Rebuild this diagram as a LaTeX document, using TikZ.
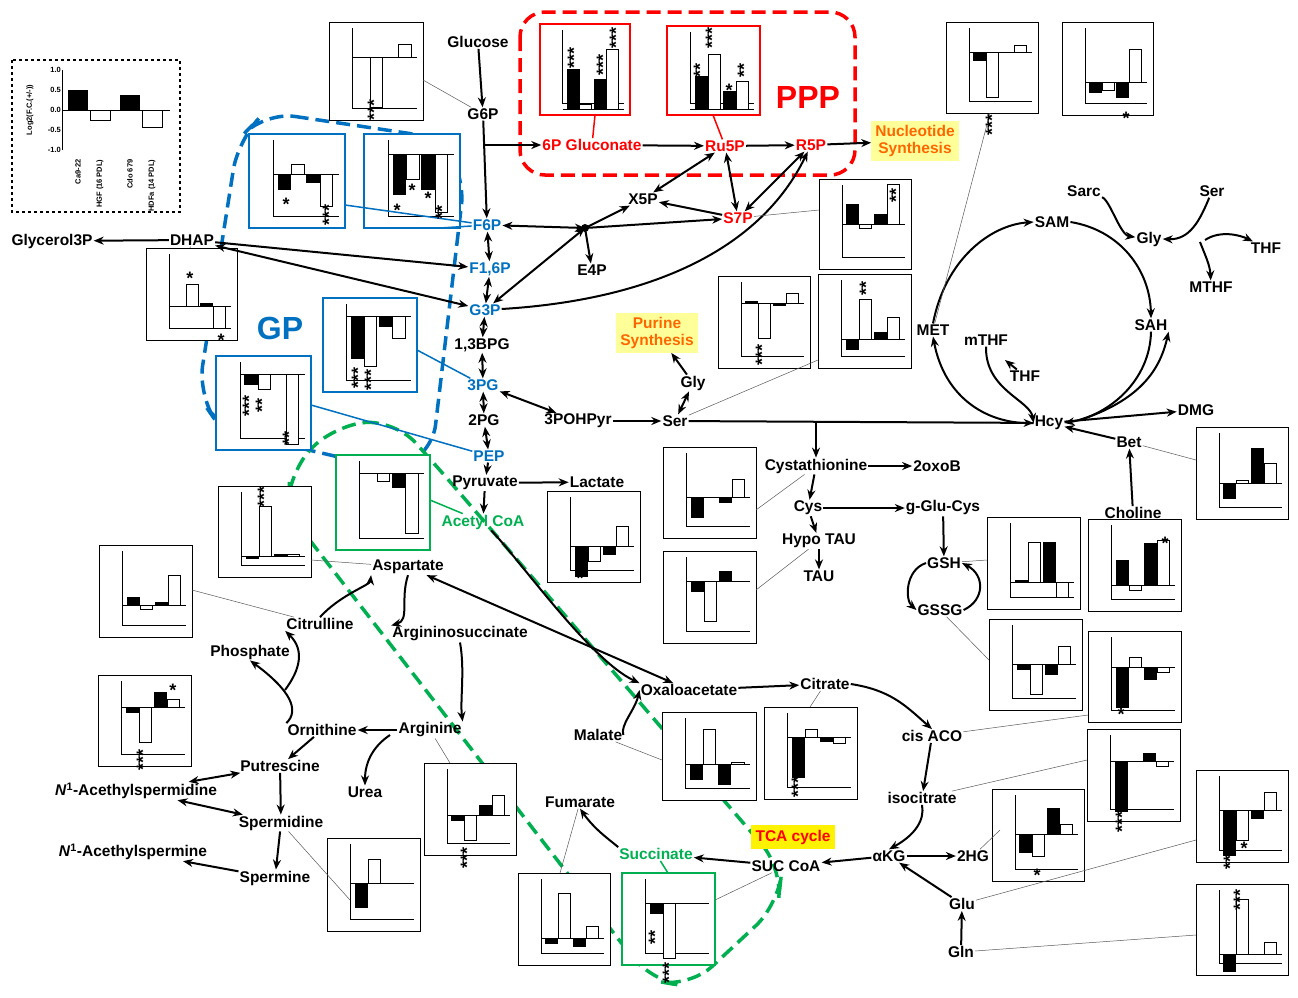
\documentclass[tikz,border=0pt]{standalone}
\usepackage{fontspec}
\setmainfont{Liberation Sans}
\usetikzlibrary{arrows.meta}
\definecolor{gblue}{RGB}{0,112,192}
\definecolor{gred}{RGB}{255,0,0}
\definecolor{ggreen}{RGB}{0,176,80}
\definecolor{yel}{RGB}{255,255,153}
\newcommand\bc[9]{\begin{scope}[shift={(#1,#2)}]
\draw[line width=0.6pt,fill=white] (0,0) rectangle (#3,#4);
\draw[line width=0.5pt] (0.25*#3,6) -- (0.25*#3,#4-12) -- (#3-6,#4-12);
\draw[line width=0.5pt] (0.25*#3,#5) -- (#3-6,#5);
\filldraw[fill=black,line width=0.4pt] (0.30*#3,#5) rectangle (0.43*#3,#5-#6);
\filldraw[fill=white,line width=0.4pt] (0.44*#3,#5) rectangle (0.57*#3,#5-#7);
\filldraw[fill=black,line width=0.4pt] (0.60*#3,#5) rectangle (0.73*#3,#5-#8);
\filldraw[fill=white,line width=0.4pt] (0.74*#3,#5) rectangle (0.87*#3,#5-#9);
\end{scope}}
\tikzset{
 m/.style={font=\fontsize{15.5}{17}\bfseries,inner sep=1pt},
 b/.style={m,text=gblue}, r/.style={m,text=gred}, g/.style={m,text=ggreen},
 a/.style={-{Stealth[length=10pt,width=8pt]},line width=2pt},
 aa/.style={{Stealth[length=10pt,width=8pt]}-{Stealth[length=10pt,width=8pt]},line width=2pt},
 thin/.style={line width=0.5pt,gray!70!black},
 yb/.style={m,fill=yel,align=center,text=orange!80!red,inner sep=4pt},
}
\begin{document}
\begin{tikzpicture}[x=1pt,y=-1pt]
\useasboundingbox (0,0) rectangle (1298,997);
% dashed regions
\draw[gred,dashed,line width=3.5pt,rounded corners=25pt,dash pattern=on 14pt off 7pt] (520,12) rectangle (855,175);
\draw[gblue,line width=3.5pt,dash pattern=on 14pt off 7pt,rounded corners=30pt] (265,112) -- (440,138) -- (465,175) -- (432,455) -- (395,470) -- (222,430) -- (198,395) -- (238,140) -- cycle;
\draw[ggreen,line width=3.5pt,dash pattern=on 14pt off 7pt,rounded corners=30pt] (335,425) -- (395,420) -- (440,470) -- (782,868) -- (778,905) -- (690,987) -- (650,980) -- (288,512) -- (290,470) -- cycle;
% legend
\draw[dashed,line width=1.5pt] (12,60) rectangle (180,212);
\begin{scope}[font=\fontsize{7.5}{9}\bfseries]
\draw (62,70) -- (62,150); \draw (62,110) -- (170,110);
\foreach \v/\y in {1.0/70,0.5/90,0.0/110,-0.5/130,-1.0/150}{\node[left,inner sep=1pt] at (62,\y){\v};}
\fill (68,110) rectangle (88,90); \draw (90,110) rectangle (110,120);
\fill (120,110) rectangle (140,95); \draw (142,110) rectangle (162,127);
\node[rotate=90] at (30,110){Log2(F.C.(+/-))};
\node[rotate=90,anchor=east] at (78,156){Ca9-22};
\node[rotate=90,anchor=east] at (100,156){HGF (16 PDL)};
\node[rotate=90,anchor=east] at (130,156){Cdo 679};
\node[rotate=90,anchor=east] at (152,156){HDFa (14 PDL)};
\end{scope}
% charts
\bc{329}{22}{94}{98}{35}{0}{-50}{0}{13}
\bc{540}{24}{90}{91}{85}{40}{5}{30}{60}
\bc{667}{26}{93}{89}{83}{33}{55}{18}{28}
\draw[gred,line width=2.5pt] (540,24) rectangle (630,115) (667,26) rectangle (760,115);
\bc{249}{134}{96}{94}{40}{-15}{10}{-8}{-32}
\bc{364}{134}{96}{94}{20}{-40}{-25}{-35}{-58}
\draw[gblue,line width=2.5pt] (249,134) rectangle (345,228) (364,134) rectangle (460,228);
\bc{146}{248}{91}{92}{58}{0}{22}{3}{-22}
\bc{323}{298}{94}{94}{18}{-42}{-50}{-10}{-22}
\bc{216}{356}{95}{94}{18}{-10}{-15}{0}{-70}
\draw[gblue,line width=2.5pt] (323,298) rectangle (417,392) (216,356) rectangle (311,450);
\bc{819}{179}{92}{90}{45}{20}{-4}{10}{40}
\bc{718}{276}{92}{92}{27}{2}{-35}{-2}{10}
\bc{818}{274}{93}{94}{65}{-10}{40}{7}{22}
\bc{946}{22}{92}{91}{30}{-8}{-45}{0}{7}
\bc{1062}{22}{91}{93}{60}{-10}{-8}{-15}{33}
\bc{663}{447}{93}{91}{50}{-20}{0}{-5}{18}
\bc{663}{551}{93}{92}{30}{-10}{-40}{10}{0}
\bc{547}{491}{93}{91}{55}{-30}{-15}{-8}{20}
\bc{336}{455}{94}{95}{18}{0}{-8}{-14}{-60}
\draw[ggreen,line width=2.5pt] (336,455) rectangle (430,550);
\bc{218}{486}{93}{91}{70}{-2}{50}{2}{2}
\bc{99}{545}{93}{92}{60}{8}{-4}{3}{30}
\bc{98}{675}{93}{91}{32}{-5}{-35}{15}{8}
\bc{424}{763}{92}{92}{52}{-5}{-25}{10}{20}
\bc{327}{838}{93}{93}{45}{-24}{24}{0}{0}
\bc{662}{712}{94}{88}{52}{-15}{35}{-20}{2}
\bc{764}{707}{93}{92}{30}{-40}{8}{-4}{-6}
\bc{518}{873}{92}{92}{65}{-5}{45}{-8}{12}
\bc{622}{873}{93}{92}{30}{-10}{-55}{0}{0}
\draw[ggreen,line width=2.5pt] (622,873) rectangle (715,965);
\bc{987}{517}{93}{92}{65}{2}{40}{40}{-15}
\bc{989}{619}{93}{91}{45}{-5}{-30}{-10}{18}
\bc{1088}{519}{93}{92}{66}{25}{-5}{42}{45}
\bc{1196}{427}{92}{92}{56}{-15}{3}{35}{20}
\bc{1088}{631}{93}{91}{36}{-40}{10}{-12}{-5}
\bc{1087}{729}{93}{92}{32}{-50}{0}{8}{-5}
\bc{992}{789}{92}{92}{45}{-18}{-22}{26}{10}
\bc{1196}{770}{92}{92}{40}{-45}{-30}{-8}{18}
\bc{1196}{884}{92}{91}{70}{-17}{55}{0}{12}
% labels big
\node[r,font=\fontsize{32}{34}\bfseries] at (808,97){PPP};
\node[b,font=\fontsize{32}{34}\bfseries] at (280,328){GP};
\node[m,fill=yellow,inner sep=5pt,text=gred] (tca) at (793,837){TCA cycle};
\node[yb] (nuc) at (915,141){Nucleotide\\Synthesis};
\node[yb] (pur) at (657,333){Purine\\Synthesis};
% metabolites
\node[m] (glc) at (478,42){Glucose};
\node[m] (g6p) at (483,114){G6P};
\node[b] (f6p) at (487,225){F6P};
\node[b] (f16p) at (490,269){F1,6P};
\node[b] (g3p) at (485,310){G3P};
\node[m] (bpg) at (482,345){1,3BPG};
\node[b] (pg3) at (483,385){3PG};
\node[m] (pg2) at (484,420){2PG};
\node[b] (pep) at (489,456){PEP};
\node[m] (pyr) at (485,483){Pyruvate};
\node[g] (aco) at (483,522){Acetyl CoA};
\node[m] (lac) at (597,482){Lactate};
\node[r] (gluc) at (592,145){6P Gluconate};
\node[r] (ru5p) at (725,146){Ru5P};
\node[r] (r5p) at (811,145){R5P};
\node[m] (x5p) at (643,199){X5P};
\node[r] (s7p) at (738,218){S7P};
\node[m] (e4p) at (592,270){E4P};
\coordinate (hub) at (585,228);
\node[m] (gly3p) at (52,241){Glycerol3P};
\node[m] (dhap) at (192,240){DHAP};
\node[m] (gly) at (693,383){Gly};
\node[m] (pohp) at (578,421){3POHPyr};
\node[m] (ser) at (675,421){Ser};
\node[m] (cyst) at (816,466){Cystathionine};
\node[m] (oxob) at (937,466){2oxoB};
\node[m] (cys) at (808,508){Cys};
\node[m] (ggc) at (943,508){g-Glu-Cys};
\node[m] (hypo) at (819,541){Hypo TAU};
\node[m] (tau) at (819,576){TAU};
\node[m] (gsh) at (944,563){GSH};
\node[m] (gssg) at (940,610){GSSG};
\node[m] (chol) at (1133,513){Choline};
\node[m] (bet) at (1129,442){Bet};
\node[m] (hcy) at (1049,423){Hcy};
\node[m] (dmg) at (1196,410){DMG};
\node[m] (sah) at (1151,325){SAH};
\node[m] (sam) at (1052,222){SAM};
\node[m] (sarc) at (1084,191){Sarc};
\node[m] (gly2) at (1149,239){Gly};
\node[m] (ser2) at (1212,191){Ser};
\node[m] (thf2) at (1266,248){THF};
\node[m] (mthf) at (1211,287){MTHF};
\node[m] (met) at (933,330){MET};
\node[m] (mthf2) at (986,340){mTHF};
\node[m] (thf) at (1025,376){THF};
\node[m] (asp) at (408,567){Aspartate};
\node[m] (cit) at (320,624){Citrulline};
\node[m] (args) at (460,634){Argininosuccinate};
\node[m] (pho) at (250,652){Phosphate};
\node[m] (orn) at (322,730){Ornithine};
\node[m] (arg) at (430,730){Arginine};
\node[m] (put) at (280,766){Putrescine};
\node[m] (urea) at (365,792){Urea};
\node[m] (nspd) at (136,791){\emph{N}\textsuperscript{1}-Acethylspermidine};
\node[m] (spd) at (281,823){Spermidine};
\node[m] (nspm) at (133,852){\emph{N}\textsuperscript{1}-Acethylspermine};
\node[m] (spm) at (275,878){Spermine};
\node[m] (oaa) at (689,690){Oxaloacetate};
\node[m] (citr) at (825,684){Citrate};
\node[m] (mal) at (598,735){Malate};
\node[m] (caco) at (932,736){cis ACO};
\node[m] (isoc) at (922,798){isocitrate};
\node[m] (fum) at (580,802){Fumarate};
\node[g] (suc) at (656,854){Succinate};
\node[m] (succoa) at (786,866){SUC CoA};
\node[m] (akg) at (889,856){αKG};
\node[m] (hg) at (973,856){2HG};
\node[m] (glu) at (962,904){Glu};
\node[m] (gln) at (961,952){Gln};
% glycolysis
\draw[a] (glc) -- (g6p);
\draw[a] (g6p) -- (f6p);
\draw[a] (483,145) -- (gluc);
\draw[aa] (f6p) -- (f16p);
\draw[aa] (f16p) -- (g3p);
\draw[aa] (g3p) -- (bpg);
\draw[aa] (bpg) -- (pg3);
\draw[aa] (pg3) -- (pg2);
\draw[aa] (pg2) -- (pep);
\draw[a] (pep) -- (pyr);
\draw[a] (pyr) -- (aco);
\draw[a] (pyr) -- (lac);
\draw[a] (gluc) -- (ru5p);
\draw[a] (ru5p) -- (r5p);
\draw[a] (r5p) -- (nuc);
\draw[aa] (x5p) -- (ru5p);
\draw[aa] (s7p) -- (ru5p);
\draw[aa] (s7p) -- (r5p);
\draw[a] (s7p) -- (x5p);
\draw[aa] (f6p) -- (hub);
\draw[a] (hub) -- (x5p);
\draw[a] (hub) -- (s7p);
\draw[a] (hub) -- (e4p);
\draw[aa] (g3p) -- (hub);
\draw[a] (g3p) .. controls (650,300) and (760,250) .. (r5p);
\fill (hub) circle (4pt);
\draw[a] (dhap) -- (gly3p);
\draw[a] (dhap) -- (f16p);
\draw[aa] (dhap) -- (g3p);
\draw[aa] (pg3) -- (pohp);
\draw[a] (pohp) -- (ser);
\draw[aa] (ser) -- (gly);
\draw[a] (gly) -- (pur);
\draw[a] (ser) -- (hcy);
\draw[a] (816,421) -- (cyst);
\draw[a] (cyst) -- (oxob);
\draw[a] (cyst) -- (cys);
\draw[a] (cys) -- (ggc);
\draw[a] (cys) -- (hypo);
\draw[a] (hypo) -- (tau);
\draw[a] (ggc) -- (gsh);
\draw[a] (gsh.west) .. controls (905,570) and (905,600) .. (gssg.west);
\draw[a] (gssg.east) .. controls (985,600) and (985,575) .. (gsh.east);
% methionine cycle
\draw[a] (met.north) .. controls (945,260) and (990,225) .. (sam.west);
\draw[a] (sam.east) .. controls (1120,230) and (1150,270) .. (sah.north);
\draw[a] (sah.south) .. controls (1150,380) and (1110,415) .. (hcy.east);
\draw[a] (hcy.west) .. controls (990,425) and (945,400) .. (met.south);
\draw[a] (mthf2.south) .. controls (985,390) and (1030,400) .. (hcy.west);
\draw[a] (thf) -- (1005,360);
\draw[a] (sarc) .. controls (1110,200) and (1120,235) .. (gly2);
\draw[a] (ser2) .. controls (1200,220) and (1190,240) .. (gly2.east);
\draw[a] (1205,240) .. controls (1220,230) and (1240,235) .. (thf2);
\draw[a] (1200,242) .. controls (1205,255) and (1210,265) .. (mthf);
\draw[a] (chol) -- (bet);
\draw[a] (bet) -- (hcy);
\draw[a] (hcy) -- (dmg);
\draw[a] (1080,420) .. controls (1140,400) and (1160,370) .. (sah.south east);
% urea cycle
\draw[a] (asp.south) .. controls (400,600) and (410,620) .. (args.north west);
\draw[a] (cit.north) .. controls (340,595) and (370,585) .. (asp.south west);
\draw[a] (args.south) .. controls (465,670) and (460,700) .. (arg.north east);
\draw[a] (arg) -- (orn);
\draw[a] (390,735) .. controls (375,745) and (365,760) .. (urea);
\draw[a] (orn.north west) .. controls (300,710) and (290,690) .. (pho.south);
\draw[a] (285,690) .. controls (300,670) and (305,650) .. (cit.south west);
\draw[a] (orn) -- (put);
\draw[aa] (put) -- (nspd);
\draw[aa] (spd) -- (nspd);
\draw[a] (put) -- (spd);
\draw[a] (spd) -- (spm);
\draw[a] (spm) -- (nspm);
% TCA
\draw[aa] (oaa) -- (asp);
\draw[a] (oaa) -- (citr);
\draw[a] (citr.east) .. controls (890,690) and (905,705) .. (caco.north);
\draw[a] (caco) -- (isoc);
\draw[a] (isoc.south) .. controls (925,820) and (915,835) .. (akg.north);
\draw[a] (akg) -- (succoa);
\draw[a] (succoa) -- (suc);
\draw[a] (suc.north west) .. controls (610,840) and (595,830) .. (fum.south);
\draw[a] (mal.east) .. controls (620,725) and (635,710) .. (oaa.west);
\draw[a] (aco) .. controls (520,560) and (590,660) .. (oaa.north west);
\draw[a] (akg) -- (hg);
\draw[a] (glu) -- (akg);
\draw[a] (gln) -- (glu);
% thin connectors
\draw[thin] (423,80) -- (g6p);
\draw[thin] (s7p) -- (819,210);
\draw[thin] (met) -- (990,113);
\draw[thin] (ser) -- (818,360);
\draw[thin] (cyst) -- (756,510);
\draw[thin] (hypo) -- (756,590);
\draw[thin] (311,560) -- (asp);
\draw[thin] (192,590) -- (cit);
\draw[thin] (arg) -- (450,763);
\draw[thin] (spd) -- (350,900);
\draw[thin] (mal) -- (662,760);
\draw[thin] (citr) -- (810,707);
\draw[thin] (fum) -- (560,873);
\draw[thin] (succoa) -- (715,900);
\draw[thin] (gsh) -- (987,560);
\draw[thin] (gssg) -- (989,660);
\draw[thin] (chol) -- (1130,519);
\draw[thin] (bet) -- (1196,460);
\draw[thin] (caco) -- (1088,715);
\draw[thin] (isoc) -- (1087,760);
\draw[thin] (hg) -- (1000,830);
\draw[thin] (glu) -- (1196,840);
\draw[thin] (gln) -- (1196,935);
\draw[thin] (dhap) -- (190,248);
\draw[gred,line width=1.5pt] (595,115) -- (gluc);
\draw[gred,line width=1.5pt] (713,115) -- (ru5p);
\draw[gblue,line width=1.5pt] (417,350) -- (pg3);
\draw[gblue,line width=1.5pt] (311,405) -- (pep);
\draw[gblue,line width=1.5pt] (345,205) -- (f6p);
\draw[gblue,line width=1.5pt] (440,228) -- (f6p);
\draw[ggreen,line width=1.5pt] (430,500) -- (aco);
\draw[ggreen,line width=1.5pt] (668,873) -- (suc);
% stars
\begin{scope}[font=\fontsize{18}{18}\bfseries]
\node[rotate=90] at (374,110){***};
\node[rotate=90] at (574,58){***}; \node[rotate=90] at (603,65){***}; \node[rotate=90] at (616,38){***};
\node[rotate=90] at (700,70){**}; \node[rotate=90] at (712,38){***}; \node at (729,90){*}; \node[rotate=90] at (744,70){**};
\node at (286,204){*}; \node[rotate=90] at (329,215){***}; \node at (397,210){*}; \node at (412,190){*}; \node at (428,198){*}; \node[rotate=90] at (442,212){**};
\node at (190,278){*}; \node at (221,340){*};
\node[rotate=90] at (358,378){***}; \node[rotate=90] at (371,380){***};
\node[rotate=90] at (249,406){***}; \node[rotate=90] at (262,405){**}; \node[rotate=90] at (289,438){**};
\node at (855,222){*}; \node[rotate=90] at (896,195){**};
\node[rotate=90] at (762,355){***}; \node[rotate=90] at (866,288){**};
\node[rotate=90] at (992,125){***}; \node at (1126,118){*};
\node[rotate=90] at (264,497){***}; \node at (580,578){*};
\node at (173,690){*}; \node[rotate=90] at (143,760){***};
\node[rotate=90] at (467,858){***}; \node at (1165,543){*};
\node[rotate=90] at (798,787){***}; \node[rotate=90] at (655,937){**}; \node[rotate=90] at (669,973){***};
\node at (1121,714){*}; \node[rotate=90] at (1122,822){***}; \node at (1037,875){*};
\node at (1244,848){*}; \node[rotate=90] at (1230,862){**}; \node[rotate=90] at (1240,900){***};
\end{scope}
\end{tikzpicture}
\end{document}
